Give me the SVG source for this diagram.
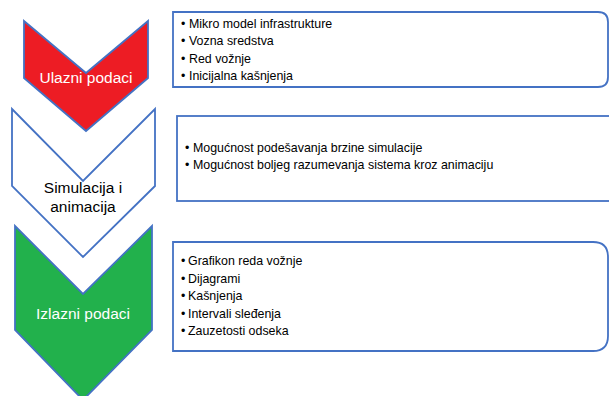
<svg xmlns="http://www.w3.org/2000/svg" width="609" height="396" viewBox="0 0 609 396">
<style>
.chev{stroke:#4472C4;stroke-width:1.8;stroke-linejoin:miter}
.box{fill:#fff;stroke:#4472C4;stroke-width:1.8}
.lbl{font-family:"Liberation Sans",Arial,sans-serif;font-size:15.5px;text-anchor:middle}
.item{font-family:"Liberation Sans",Arial,sans-serif;font-size:12.4px;fill:#000}
</style>
<rect width="609" height="396" fill="#fff"/>
<g id="chevron-ulazni">
<polygon class="chev" fill="#ED1C24" points="24,21 86,73 148,21 148,78 86,131 24,78"/>
<text class="lbl" x="86" y="83" fill="#fff">Ulazni podaci</text>
</g>
<g id="chevron-simulacija">
<polygon class="chev" fill="#fff" points="12,109 83,181 155,109 155,186 83,257 12,186"/>
<text class="lbl" x="83" y="193" fill="#000">Simulacija i</text>
<text class="lbl" x="83" y="212" fill="#000">animacija</text>
</g>
<g id="chevron-izlazni">
<polygon class="chev" fill="#22B14C" points="15,226 83,294 152,226 152,330 83,400 15,330"/>
<text class="lbl" x="83" y="319" fill="#fff">Izlazni podaci</text>
</g>
<g id="box-ulazni">
<path class="box" d="M173,12 H598 Q608,12 608,22 V77 Q608,87 598,87 H173 Z"/>
<text class="item" x="181" y="28">•</text><text class="item" x="189" y="28">Mikro model infrastrukture</text>
<text class="item" x="181" y="45">•</text><text class="item" x="189" y="45">Vozna sredstva</text>
<text class="item" x="181" y="63">•</text><text class="item" x="189" y="63">Red vožnje</text>
<text class="item" x="181" y="80">•</text><text class="item" x="189" y="80">Inicijalna kašnjenja</text>
</g>
<g id="box-simulacija">
<rect class="box" x="177" y="116" width="450" height="85"/>
<text class="item" x="185" y="152">•</text><text class="item" x="193" y="152">Mogućnost podešavanja brzine simulacije</text>
<text class="item" x="185" y="169">•</text><text class="item" x="193" y="169">Mogućnost boljeg razumevanja sistema kroz animaciju</text>
</g>
<g id="box-izlazni">
<path class="box" d="M173,242 H593 Q608,242 608,257 V336 Q608,351 593,351 H173 Z"/>
<text class="item" x="181" y="265">•</text><text class="item" x="188" y="265">Grafikon reda vožnje</text>
<text class="item" x="181" y="283">•</text><text class="item" x="188" y="283">Dijagrami</text>
<text class="item" x="181" y="300">•</text><text class="item" x="188" y="300">Kašnjenja</text>
<text class="item" x="181" y="318">•</text><text class="item" x="188" y="318">Intervali sleđenja</text>
<text class="item" x="181" y="335">•</text><text class="item" x="188" y="335">Zauzetosti odseka</text>
</g>
<g id="connectors"></g>
</svg>
